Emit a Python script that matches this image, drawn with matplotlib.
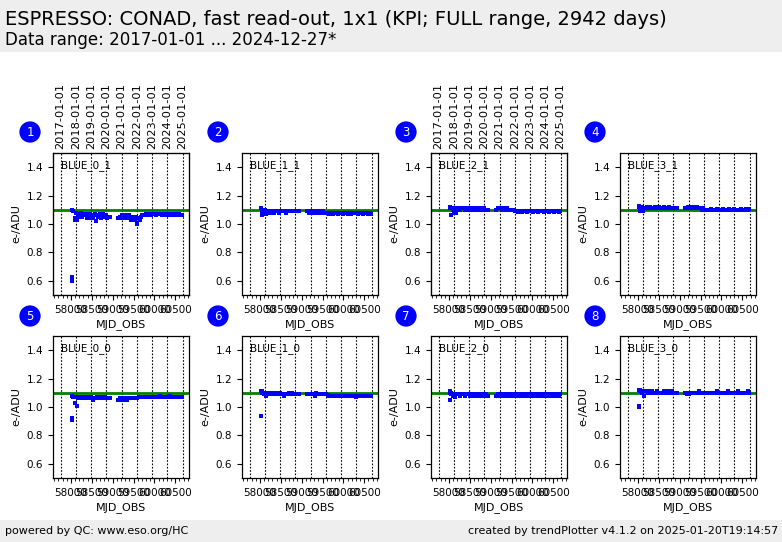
import matplotlib
matplotlib.use('Agg')
import matplotlib.pyplot as plt
from matplotlib.ticker import MultipleLocator, FixedLocator
from matplotlib.patches import Rectangle

# ---------------- data ----------------
title = "ESPRESSO: CONAD, fast read-out, 1x1 (KPI; FULL range, 2942 days)"
subtitle = "Data range: 2017-01-01 ... 2024-12-27*"
footer_left = "powered by QC: www.eso.org/HC"
footer_right = "created by trendPlotter v4.1.2 on 2025-01-20T19:14:57"

panel_names = ["BLUE_0_1", "BLUE_1_1", "BLUE_2_1", "BLUE_3_1",
               "BLUE_0_0", "BLUE_1_0", "BLUE_2_0", "BLUE_3_0"]
reference_value = 1.1

year_mjd = [57754, 58119, 58484, 58849, 59215, 59580, 59945, 60310, 60676]
year_labels = ["2017-01-01", "2018-01-01", "2019-01-01", "2020-01-01", "2021-01-01",
               "2022-01-01", "2023-01-01", "2024-01-01", "2025-01-01"]

mjd = [58030, 58060, 58090, 58120, 58150, 58180, 58210, 58240, 58270, 58300,
       58330, 58360, 58390, 58420, 58450, 58480, 58510, 58540, 58570, 58600,
       58630, 58660, 58690, 58720, 58750, 58780, 58810, 58840, 58870, 58900, 58930,
       59140, 59170, 59200, 59230, 59260, 59290, 59320, 59350, 59380, 59410,
       59440, 59470, 59500, 59530, 59560, 59590, 59620, 59650, 59680, 59710,
       59740, 59770, 59800, 59830, 59860, 59890, 59920, 59950, 59980, 60010,
       60040, 60070, 60100, 60130, 60160, 60190, 60220, 60250, 60280, 60310,
       60340, 60370, 60400, 60430, 60460, 60490, 60520, 60550, 60580, 60610,
       60640, 60670]

blue_0_1 = [1.10, 1.09, 1.04, 1.08, 1.03, 1.07, 1.06, 1.08, 1.05, 1.07, 1.06, 1.07, 1.04, 1.06, 1.07, 1.05,
            1.06, 1.04, 1.07, 1.02, 1.06, 1.05, 1.07, 1.04, 1.06, 1.07, 1.05, 1.06, 1.04, 1.05, 1.05,
            1.04, 1.05, 1.04, 1.06, 1.04, 1.05, 1.06, 1.04, 1.06, 1.05, 1.03, 1.05, 1.04, 1.03, 1.05,
            1.00, 1.04, 1.03, 1.05, 1.06, 1.06, 1.06, 1.07, 1.06, 1.07, 1.07, 1.06, 1.07, 1.07, 1.07,
            1.06, 1.07, 1.07, 1.07, 1.07, 1.06, 1.07, 1.07, 1.06, 1.07, 1.07, 1.06, 1.07, 1.06, 1.07,
            1.07, 1.06, 1.06, 1.07, 1.06, 1.06, 1.06]
blue_1_1 = [1.11, 1.09, 1.08, 1.10, 1.07, 1.09, 1.09, 1.08, 1.09, 1.09, 1.08, 1.09, 1.09, 1.09, 1.08, 1.09,
            1.09, 1.09, 1.09, 1.09, 1.08, 1.09, 1.09, 1.09, 1.09, 1.09, 1.09, 1.09, 1.09, 1.09, 1.09,
            1.09, 1.08, 1.09, 1.09, 1.08, 1.09, 1.08, 1.09, 1.09, 1.08, 1.09, 1.08, 1.09, 1.08, 1.08,
            1.08, 1.08, 1.07, 1.08, 1.08, 1.07, 1.08, 1.08, 1.08, 1.07, 1.08, 1.08, 1.08, 1.07, 1.08,
            1.08, 1.08, 1.07, 1.08, 1.08, 1.07, 1.08, 1.08, 1.08, 1.08, 1.07, 1.08, 1.08, 1.08, 1.07,
            1.08, 1.08, 1.08, 1.07, 1.08, 1.08, 1.07]
blue_2_1 = [1.12, 1.11, 1.10, 1.08, 1.11, 1.10, 1.11, 1.11, 1.10, 1.11, 1.11, 1.11, 1.10, 1.11, 1.11, 1.10,
            1.11, 1.11, 1.10, 1.11, 1.11, 1.10, 1.11, 1.11, 1.10, 1.11, 1.10, 1.11, 1.10, 1.10, 1.10,
            1.10, 1.11, 1.11, 1.11, 1.10, 1.11, 1.11, 1.10, 1.11, 1.10, 1.10, 1.10, 1.10, 1.10, 1.10,
            1.09, 1.09, 1.085, 1.09, 1.09, 1.085, 1.09, 1.09, 1.09, 1.085, 1.09, 1.09, 1.09, 1.09, 1.085,
            1.09, 1.09, 1.09, 1.085, 1.09, 1.09, 1.09, 1.09, 1.085, 1.09, 1.09, 1.09, 1.085, 1.09, 1.09,
            1.09, 1.085, 1.09, 1.09, 1.09, 1.085, 1.09]
blue_3_1 = [1.13, 1.10, 1.12, 1.09, 1.11, 1.11, 1.12, 1.11, 1.11, 1.12, 1.11, 1.11, 1.11, 1.12, 1.11, 1.11,
            1.12, 1.11, 1.11, 1.11, 1.12, 1.11, 1.11, 1.11, 1.12, 1.11, 1.11, 1.11, 1.11, 1.11, 1.11,
            1.11, 1.11, 1.12, 1.11, 1.12, 1.12, 1.11, 1.12, 1.11, 1.12, 1.11, 1.11, 1.11, 1.10, 1.11,
            1.10, 1.10, 1.10, 1.10, 1.10, 1.105, 1.10, 1.10, 1.10, 1.10, 1.105, 1.10, 1.10, 1.10, 1.10,
            1.105, 1.10, 1.10, 1.10, 1.10, 1.105, 1.10, 1.10, 1.10, 1.105, 1.10, 1.10, 1.10, 1.10, 1.105,
            1.10, 1.10, 1.10, 1.105, 1.10, 1.10, 1.105]
blue_0_0 = [1.08, 1.07, 1.03, 1.07, 1.01, 1.06, 1.07, 1.06, 1.07, 1.06, 1.07, 1.06, 1.07, 1.06, 1.06, 1.07,
            1.06, 1.05, 1.06, 1.06, 1.07, 1.06, 1.06, 1.07, 1.06, 1.06, 1.07, 1.06, 1.06, 1.06, 1.06,
            1.05, 1.06, 1.05, 1.06, 1.05, 1.06, 1.06, 1.05, 1.06, 1.06, 1.06, 1.06, 1.06, 1.06, 1.06,
            1.065, 1.07, 1.07, 1.07, 1.07, 1.07, 1.07, 1.07, 1.07, 1.07, 1.07, 1.07, 1.07, 1.07, 1.07,
            1.07, 1.07, 1.07, 1.08, 1.07, 1.07, 1.07, 1.07, 1.07, 1.07, 1.07, 1.08, 1.07, 1.07, 1.07,
            1.07, 1.07, 1.07, 1.07, 1.07, 1.07, 1.07]
blue_1_0 = [1.11, 1.10, 1.09, 1.10, 1.08, 1.09, 1.10, 1.09, 1.10, 1.10, 1.09, 1.09, 1.10, 1.09, 1.09, 1.10,
            1.09, 1.09, 1.08, 1.09, 1.09, 1.09, 1.10, 1.10, 1.09, 1.10, 1.09, 1.09, 1.09, 1.09, 1.09,
            1.09, 1.09, 1.09, 1.09, 1.09, 1.09, 1.08, 1.10, 1.09, 1.09, 1.09, 1.09, 1.09, 1.09, 1.09,
            1.09, 1.085, 1.08, 1.08, 1.08, 1.08, 1.08, 1.08, 1.08, 1.08, 1.08, 1.08, 1.08, 1.08, 1.08,
            1.08, 1.08, 1.08, 1.08, 1.08, 1.08, 1.08, 1.08, 1.08, 1.07, 1.08, 1.08, 1.08, 1.08, 1.08,
            1.08, 1.08, 1.08, 1.08, 1.08, 1.08, 1.08]
blue_2_0 = [1.10, 1.09, 1.08, 1.09, 1.07, 1.09, 1.09, 1.09, 1.08, 1.09, 1.09, 1.09, 1.08, 1.09, 1.09, 1.09,
            1.08, 1.09, 1.09, 1.08, 1.08, 1.09, 1.09, 1.08, 1.09, 1.08, 1.09, 1.08, 1.08, 1.09, 1.08,
            1.08, 1.09, 1.08, 1.09, 1.08, 1.09, 1.08, 1.09, 1.09, 1.08, 1.09, 1.08, 1.09, 1.08, 1.09,
            1.08, 1.09, 1.08, 1.09, 1.09, 1.08, 1.09, 1.08, 1.09, 1.08, 1.08, 1.09, 1.08, 1.09, 1.08,
            1.09, 1.08, 1.09, 1.08, 1.08, 1.09, 1.08, 1.09, 1.08, 1.08, 1.09, 1.08, 1.08, 1.09, 1.08,
            1.08, 1.09, 1.08, 1.08, 1.09, 1.08, 1.09]
blue_3_0 = [1.12, 1.11, 1.10, 1.11, 1.08, 1.11, 1.11, 1.10, 1.11, 1.10, 1.11, 1.10, 1.10, 1.10, 1.11, 1.10,
            1.10, 1.10, 1.10, 1.10, 1.11, 1.10, 1.10, 1.11, 1.11, 1.10, 1.11, 1.10, 1.10, 1.10, 1.10,
            1.10, 1.09, 1.10, 1.09, 1.10, 1.10, 1.10, 1.10, 1.10, 1.10, 1.10, 1.11, 1.10, 1.10, 1.10,
            1.10, 1.10, 1.10, 1.10, 1.10, 1.10, 1.10, 1.10, 1.10, 1.10, 1.11, 1.10, 1.10, 1.10, 1.10,
            1.10, 1.10, 1.10, 1.10, 1.11, 1.10, 1.10, 1.10, 1.10, 1.10, 1.10, 1.10, 1.11, 1.10, 1.10,
            1.10, 1.10, 1.10, 1.10, 1.10, 1.11, 1.10]
panel_values = [blue_0_1, blue_1_1, blue_2_1, blue_3_1, blue_0_0, blue_1_0, blue_2_0, blue_3_0]

# extra (outlier / overlapping) points per panel
extra_mjd = [[58025, 58032, 58100, 58200, 58450, 58700],
             [58040, 58045, 58090],
             [58040, 58035, 58160],
             [58035, 58040, 58100],
             [58030, 58036, 58040],
             [58030, 58040, 58080],
             [58030, 58035, 58040],
             [58030, 58035, 58040, 58150]]
extra_val = [[0.60, 0.63, 1.03, 1.05, 1.04, 1.05],
             [1.06, 1.10, 1.10],
             [1.06, 1.11, 1.08],
             [1.12, 1.09, 1.09],
             [0.91, 0.92, 1.07],
             [0.94, 1.11, 1.10],
             [1.05, 1.11, 1.10],
             [1.00, 1.01, 1.12, 1.08]]

# ---------------- layout ----------------
W, H = 782, 542
fig = plt.figure(figsize=(W / 100, H / 100), dpi=100)
plt.rcParams['font.family'] = ['DejaVu Sans']

fig.patches.append(Rectangle((0, 1 - 52 / H), 1, 52 / H, transform=fig.transFigure,
                             fc='#eeeeee', ec='none', zorder=0))
fig.patches.append(Rectangle((0, 0), 1, 22 / H, transform=fig.transFigure,
                             fc='#eeeeee', ec='none', zorder=0))
fig.text(5 / W, 1 - 25 / H, title, fontsize=14, va='baseline', ha='left', color='black')
fig.text(5 / W, 1 - 45 / H, subtitle, fontsize=12, va='baseline', ha='left', color='black')
fig.text(5 / W, 11 / H, footer_left, fontsize=8, va='center', ha='left', color='black')
fig.text(778 / W, 11 / H, footer_right, fontsize=8, va='center', ha='right', color='black')

col_left = [53, 242, 431, 620]
row_top = [153, 336]
ax_w, ax_h = 136, 142
circle_x = [30, 218, 406, 595]
circle_y = [132, 316]

xlim = (57570, 60830)

for i, name in enumerate(panel_names):
    r, c = divmod(i, 4)
    left = col_left[c] / W
    bottom = 1 - (row_top[r] + ax_h) / H
    ax = fig.add_axes([left, bottom, ax_w / W, ax_h / H])
    ax.set_xlim(*xlim)
    ax.set_ylim(0.5, 1.5)
    for ym in year_mjd:
        ax.axvline(ym, color='black', ls=(0, (1.5, 1.5)), lw=0.8, zorder=1)
    ax.axhline(reference_value, color='green', lw=2, zorder=2)
    ax.plot(mjd, panel_values[i], ls='none', marker='s', ms=2.4, mew=0, color='blue', zorder=3)
    ax.plot(extra_mjd[i], extra_val[i], ls='none', marker='s', ms=2.4, mew=0, color='blue', zorder=3)
    ax.xaxis.set_major_locator(MultipleLocator(500))
    ax.xaxis.set_minor_locator(MultipleLocator(100))
    ax.yaxis.set_major_locator(FixedLocator([0.6, 0.8, 1.0, 1.2, 1.4]))
    ax.tick_params(axis='both', which='major', labelsize=7.5, length=3.5, width=0.8, direction='out')
    ax.tick_params(axis='x', which='minor', length=2, width=0.6, direction='out')
    ax.set_xticklabels([f"{int(v)}" for v in ax.get_xticks()])
    ax.set_ylabel("e-/ADU", fontsize=8, labelpad=4)
    ax.set_xlabel("MJD_OBS", fontsize=8, labelpad=3)
    ax.text(0.06, 0.95, name, transform=ax.transAxes, fontsize=7.5, ha='left', va='top')
    for s in ax.spines.values():
        s.set_linewidth(0.9)
    if r == 0 and c in (0, 2):
        top = ax.twiny()
        top.set_xlim(*xlim)
        top.set_xticks(year_mjd)
        top.set_xticklabels(year_labels, rotation=90, fontsize=8.2)
        top.tick_params(axis='x', length=0, pad=3)
    fig.text(circle_x[c] / W, 1 - circle_y[r] / H, str(i + 1), color='white', fontsize=8.5,
             ha='center', va='center',
             bbox=dict(boxstyle='circle,pad=0.35', fc='blue', ec='none'))

fig.savefig('out.png', dpi=100)
